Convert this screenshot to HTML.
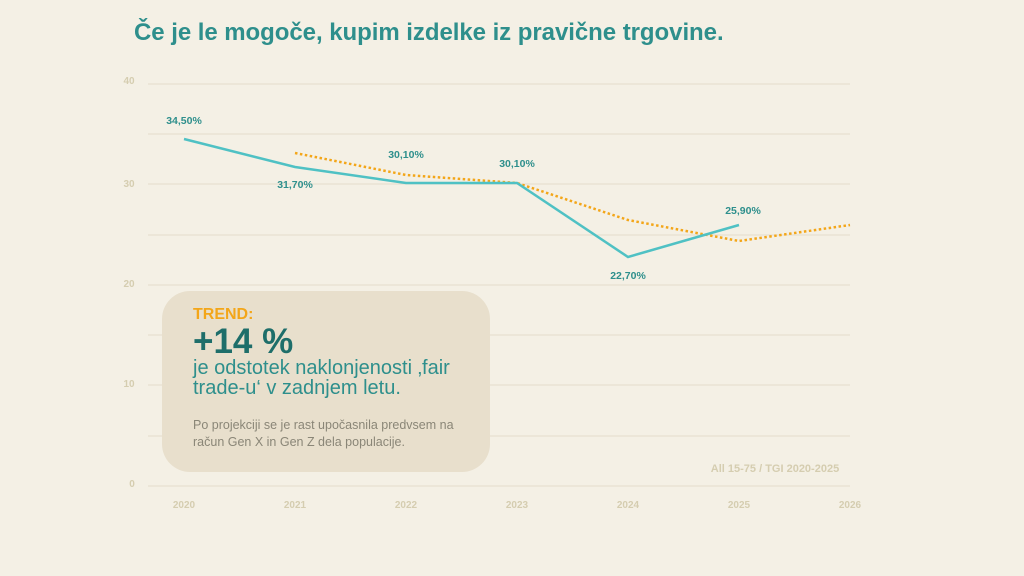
<!DOCTYPE html>
<html><head><meta charset="utf-8"><style>
body{margin:0;width:1024px;height:576px;background:#f4f0e5;font-family:"Liberation Sans",sans-serif;overflow:hidden;position:relative}
.t{position:absolute;left:134px;top:19px;font-size:24px;font-weight:bold;color:#2e8f8c;letter-spacing:-0.05px}
.box{position:absolute;left:162px;top:291px;width:328px;height:181px;background:#e8dfcc;border-radius:28px}
.box div{position:absolute;left:31px}
</style></head><body>
<div class="t">Če je le mogoče, kupim izdelke iz pravične trgovine.</div>
<svg width="1024" height="576" style="position:absolute;left:0;top:0" font-family="Liberation Sans, sans-serif">
<g stroke="#e4ddcc" stroke-width="1">
<line x1="148" x2="850" y1="84" y2="84"/><line x1="148" x2="850" y1="134" y2="134"/>
<line x1="148" x2="850" y1="184" y2="184"/><line x1="148" x2="850" y1="235" y2="235"/>
<line x1="148" x2="850" y1="285" y2="285"/><line x1="148" x2="850" y1="335" y2="335"/>
<line x1="148" x2="850" y1="385" y2="385"/><line x1="148" x2="850" y1="436" y2="436"/>
<line x1="148" x2="850" y1="486" y2="486"/>
</g>
<g fill="#d5cdb0" font-size="10" font-weight="bold" text-anchor="middle">
<text x="129" y="84">40</text><text x="129" y="187">30</text><text x="129" y="287">20</text><text x="129" y="387">10</text><text x="132" y="487">0</text>
<text x="184" y="508">2020</text><text x="295" y="508">2021</text><text x="406" y="508">2022</text><text x="517" y="508">2023</text><text x="628" y="508">2024</text><text x="739" y="508">2025</text><text x="850" y="508">2026</text>
<text x="775" y="472" font-size="11">All 15-75 / TGI 2020-2025</text>
</g>
<polyline points="295,153 406,175 517,183 628,220 739,241 850,225" fill="none" stroke="#f3a619" stroke-width="2.5" stroke-dasharray="2.5,2.5"/>
<polyline points="184,139 295,167 406,183 517,183 628,257 739,225" fill="none" stroke="#4fc1c4" stroke-width="2.5"/>
<g fill="#2e8f8c" font-size="10.5" font-weight="bold" text-anchor="middle">
<text x="184" y="124">34,50%</text><text x="295" y="188">31,70%</text><text x="406" y="158">30,10%</text><text x="517" y="167">30,10%</text><text x="628" y="279">22,70%</text><text x="743" y="214">25,90%</text>
</g>
</svg>
<div class="box">
<div style="top:15px;font-size:16px;font-weight:bold;color:#f3a619">TREND:</div>
<div style="top:31px;font-size:35px;font-weight:bold;color:#1e6e6a">+14 %</div>
<div style="top:67px;font-size:20px;color:#2e8f8c;line-height:20px">je odstotek naklonjenosti ‚fair<br>trade-u‘ v zadnjem letu.</div>
<div style="top:126px;font-size:12.5px;color:#8a8677;line-height:17px">Po projekciji se je rast upočasnila predvsem na<br>račun Gen X in Gen Z dela populacije.</div>
</div>
</body></html>
